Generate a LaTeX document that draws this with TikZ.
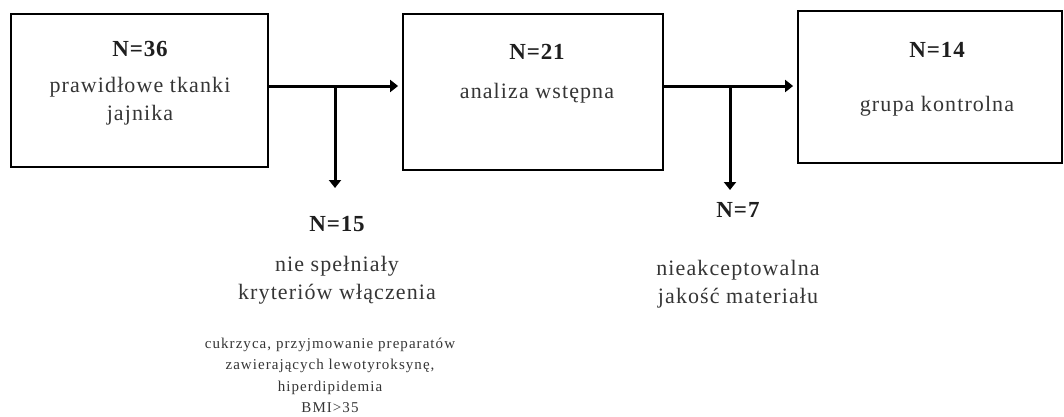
\documentclass[tikz,border=0pt]{standalone}
\usepackage{fontspec}
\setmainfont{Liberation Serif}
\usetikzlibrary{positioning,arrows.meta}

\definecolor{inkdark}{HTML}{1E1E1E}
\definecolor{inkgrey}{HTML}{353535}

\tikzset{
  stage/.style={draw=black, line width=1.8pt, inner sep=0pt},
  count/.style={inner sep=0pt, text=inkdark,
    font=\fontsize{23}{27}\selectfont\bfseries\addfontfeature{LetterSpace=4}},
  desc/.style={inner sep=0pt, align=center, text=inkgrey,
    font=\fontsize{22}{28}\selectfont\addfontfeature{LetterSpace=5}},
  note/.style={inner sep=0pt, align=center, text=inkgrey,
    font=\fontsize{15}{21.5}\selectfont\addfontfeature{LetterSpace=7}},
  flow/.style={line width=3pt, -{Triangle[length=8pt,width=12pt]}},
}

\begin{document}
\begin{tikzpicture}[x=1pt, y=-1pt]
  \useasboundingbox (0,0) rectangle (1064,416);

  % Stage boxes
  \node[stage, minimum width=257pt, minimum height=153pt] (b36) at (139.5,90.5) {};
  \node[stage, minimum width=260pt, minimum height=156pt] (b21) at (533,92) {};
  \node[stage, minimum width=264pt, minimum height=152pt] (b14) at (930,87) {};

  % Counts and descriptions inside the boxes
  \node[count] (n36) at (140,49) {N=36};
  \node[desc, below=20pt of n36] (t36) {prawidłowe tkanki\\jajnika};

  \node[count] (n21) at (537,52) {N=21};
  \node[desc, below=23pt of n21] (t21) {analiza wstępna};

  \node[count] (n14) at (937,50) {N=14};
  \node[desc, below=38pt of n14] (t14) {grupa kontrolna};

  % Excluded groups
  \node[count] (n15) at (337,224) {N=15};
  \node[desc, below=24pt of n15] (t15) {nie spełniały\\kryteriów włączenia};
  \node[note, below=38pt of t15.base, xshift=-7pt] (s15)
    {cukrzyca, przyjmowanie preparatów\\zawierających lewotyroksynę,\\hiperdipidemia\\BMI>35};

  \node[count] (n7) at (738,210) {N=7};
  \node[desc, below=42pt of n7] (t7) {nieakceptowalna\\jakość materiału};

  % Junctions
  \coordinate (j1) at (335,86);
  \coordinate (d1) at (335,188);
  \coordinate (j2) at (730,86);
  \coordinate (d2) at (730,190);

  % Edges
  \draw[flow, shorten >=4pt] (b36.east |- j1) -- (b21.west |- j1);
  \draw[flow] (j1) -- (d1);
  \draw[flow, shorten >=4pt] (b21.east |- j2) -- (b14.west |- j2);
  \draw[flow] (j2) -- (d2);

\end{tikzpicture}
\end{document}
